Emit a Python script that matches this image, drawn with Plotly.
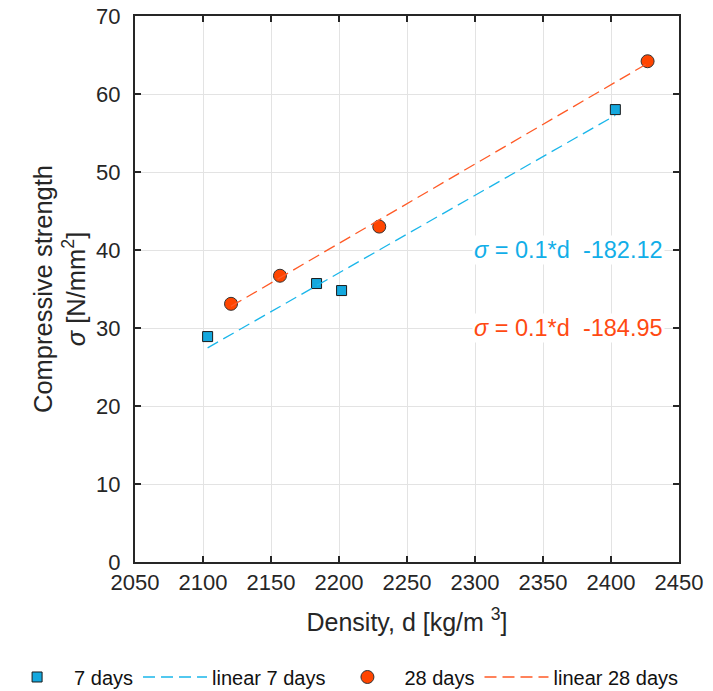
import numpy as np
import plotly.graph_objects as go

# Data
density_7 = [2103.4, 2183.5, 2201.9, 2403.2]
strength_7 = [28.9, 35.7, 34.8, 58.0]
density_28 = [2120.6, 2156.6, 2229.6, 2426.9]
strength_28 = [33.1, 36.7, 43.0, 64.2]

eq_7 = "<i>σ</i> = 0.1*d  -182.12"
eq_28 = "<i>σ</i> = 0.1*d  -184.95"
eq_7_pos = (2369, 40)
eq_28_pos = (2369, 30)

x_ticks = list(range(2050, 2451, 50))
y_ticks = list(range(0, 71, 10))

BLUE_M = "#14a8de"
BLUE_L = "#1ab6ea"
ORANGE_M = "#ff4500"
ORANGE_L = "#ff5a26"
FONT = "Liberation Sans, Arial, sans-serif"
TXT = "#262626"


def fit_line(xs, ys):
    k, b = np.polyfit(xs, ys, 1)
    xx = np.array([min(xs), max(xs)])
    return xx, k * xx + b


fx7, fy7 = fit_line(density_7, strength_7)
fx28, fy28 = fit_line(density_28, strength_28)

fig = go.Figure()
fig.add_trace(go.Scatter(x=density_7, y=strength_7, mode="markers", name="7 days",
                         marker=dict(symbol="square", size=10, color=BLUE_M,
                                     line=dict(color="#1a1a1a", width=1))))
fig.add_trace(go.Scatter(x=fx7, y=fy7, mode="lines", name="linear 7 days",
                         line=dict(color=BLUE_L, width=1.3, dash="12px,6px")))
fig.add_trace(go.Scatter(x=density_28, y=strength_28, mode="markers", name="28 days",
                         marker=dict(symbol="circle", size=13, color=ORANGE_M,
                                     line=dict(color="#333333", width=1))))
fig.add_trace(go.Scatter(x=fx28, y=fy28, mode="lines", name="linear 28 days",
                         line=dict(color=ORANGE_L, width=1.3, dash="12px,6px")))

fig.add_annotation(x=eq_7_pos[0], y=eq_7_pos[1], text=eq_7, showarrow=False,
                   font=dict(size=23.5, color="#12aee8", family=FONT), bgcolor="white")
fig.add_annotation(x=eq_28_pos[0], y=eq_28_pos[1], text=eq_28, showarrow=False,
                   font=dict(size=23.5, color="#ff4a12", family=FONT), bgcolor="white")

axis_common = dict(showline=True, linecolor=TXT, linewidth=2, mirror="ticks",
                   ticks="inside", ticklen=6, tickcolor=TXT, tickwidth=2,
                   showgrid=True, gridcolor="#e3e3e3", gridwidth=1, zeroline=False,
                   tickfont=dict(size=22, color=TXT, family=FONT))

fig.update_xaxes(range=[2050, 2450], tickvals=x_ticks,
                 title=dict(text="Density, d [kg/m <sup>3</sup>]",
                            font=dict(size=25, color=TXT, family=FONT), standoff=19),
                 **axis_common)
fig.update_yaxes(range=[0, 70], tickvals=y_ticks, ticklabelstandoff=8,
                 title=dict(text="Compressive strength<br><i>σ</i> [N/mm<sup>2</sup>]",
                            font=dict(size=25.5, color=TXT, family=FONT), standoff=3),
                 **axis_common)

fig.update_layout(
    width=713, height=691,
    margin=dict(l=135, r=34, t=16, b=129, autoexpand=False),
    plot_bgcolor="white", paper_bgcolor="white",
    font=dict(family=FONT, color=TXT),
    showlegend=True,
    legend=dict(orientation="h", x=-0.248, xanchor="left", y=-0.2106, yanchor="middle",
                font=dict(size=20, color="#111111", family=FONT),
                bgcolor="rgba(0,0,0,0)", itemwidth=64, tracegroupgap=0),
)

fig.write_html("out.html")
